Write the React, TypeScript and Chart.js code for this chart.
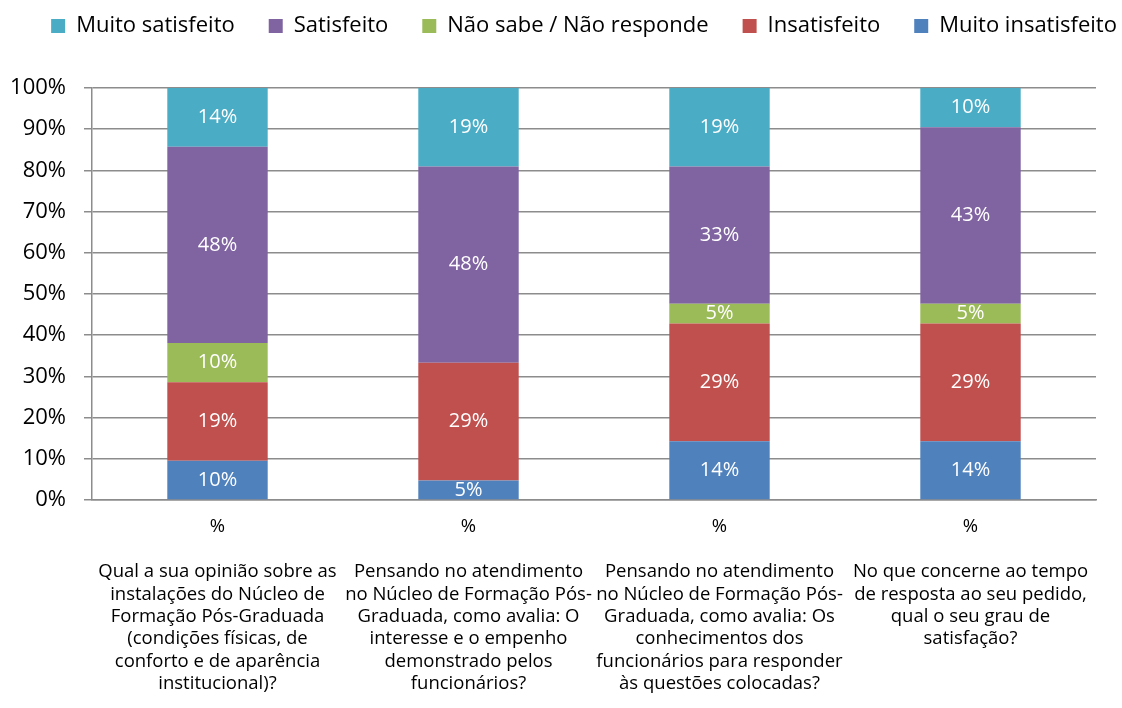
import React, { useEffect, useRef } from "react";
import { Chart, registerables } from "chart.js";

Chart.register(...registerables);

const categories: string[][] = [
  ["%", "", "Qual a sua opinião sobre as", "instalações do Núcleo de", "Formação Pós-Graduada", "(condições físicas, de", "conforto e de aparência", "institucional)?"],
  ["%", "", "Pensando no atendimento", "no Núcleo de Formação Pós-", "Graduada, como avalia: O", "interesse e o empenho", "demonstrado pelos", "funcionários?"],
  ["%", "", "Pensando no atendimento", "no Núcleo de Formação Pós-", "Graduada, como avalia: Os", "conhecimentos dos", "funcionários para responder", "às questões colocadas?"],
  ["%", "", "No que concerne ao tempo", "de resposta ao seu pedido,", "qual o seu grau de", "satisfação?"],
];

const muitoInsatisfeito = [9.52, 4.76, 14.29, 14.29];
const insatisfeito = [19.05, 28.57, 28.57, 28.57];
const naoSabe = [9.52, 0, 4.76, 4.76];
const satisfeito = [47.62, 47.62, 33.33, 42.86];
const muitoSatisfeito = [14.29, 19.05, 19.05, 9.52];

const yTicks = [0, 10, 20, 30, 40, 50, 60, 70, 80, 90, 100];

const FONT = "'Open Sans'";
const LEGEND_PAD = 34;
const LEGEND_FONT = 22;

const dataLabels = {
  id: "dataLabels",
  afterDatasetsDraw(chart: any) {
    const ctx = chart.ctx;
    ctx.save();
    ctx.fillStyle = "#ffffff";
    ctx.font = `20px ${FONT}`;
    ctx.textAlign = "center";
    ctx.textBaseline = "middle";
    chart.data.datasets.forEach((ds: any, i: number) => {
      const meta = chart.getDatasetMeta(i);
      meta.data.forEach((el: any, j: number) => {
        const v = ds.data[j];
        if (!v) return;
        const y = (el.y + el.base) / 2;
        ctx.fillText(Math.round(v) + "%", el.x, y);
      });
    });
    ctx.restore();
  },
};

const legendPlacement = {
  id: "legendPlacement",
  beforeInit(chart: any) {
    const lg = chart.legend;
    if (!lg) return;
    const orig = lg.fit;
    lg.fit = function () {
      const mw = this.maxWidth;
      this.maxWidth = 5000;
      orig.call(this);
      this.maxWidth = mw;
      this.width = mw;
      this.height = 82;
    };
  },
  afterLayout(chart: any) {
    const lg = chart.legend;
    if (!lg) return;
    const h = lg.bottom - lg.top;
    // centre the legend row on x = 584, leaving room so it stays on one line
    lg.left = 6;
    lg.right = 1162;
    lg.width = lg.right - lg.left;
    lg.top = 26 - LEGEND_FONT / 2 - LEGEND_PAD;
    lg.bottom = lg.top + h;
  },
};

export default function App() {
  const ref = useRef<HTMLCanvasElement | null>(null);
  useEffect(() => {
    if (!ref.current) return;
    const grid = "#8c8c8c";
    const chart = new Chart(ref.current, {
      type: "bar",
      data: {
        labels: categories,
        datasets: [
          { label: "Muito insatisfeito", data: muitoInsatisfeito, backgroundColor: "#4F81BD" },
          { label: "Insatisfeito", data: insatisfeito, backgroundColor: "#C0504D" },
          { label: "Não sabe / Não responde", data: naoSabe, backgroundColor: "#9BBB59" },
          { label: "Satisfeito", data: satisfeito, backgroundColor: "#8064A2" },
          { label: "Muito satisfeito", data: muitoSatisfeito, backgroundColor: "#4BACC6" },
        ],
      },
      options: {
        responsive: false,
        animation: false,
        devicePixelRatio: 1,
        layout: { padding: { left: 0, right: 0, top: 6, bottom: 0 } },
        datasets: { bar: { categoryPercentage: 1, barPercentage: 0.4 } },
        plugins: {
          tooltip: { enabled: false },
          legend: {
            position: "top",
            reverse: true,
            labels: {
              boxWidth: 14,
              boxHeight: 14,
              padding: LEGEND_PAD,
              color: "#000000",
              font: { family: FONT, size: LEGEND_FONT },
            },
          },
        },
        scales: {
          x: {
            stacked: true,
            grid: { display: false, drawTicks: false },
            border: { display: true, color: grid, width: 1.5 },
            ticks: {
              color: "#000000",
              font: { family: FONT, size: 18.5, lineHeight: "22.4px" } as any,
              padding: 16,
              maxRotation: 0,
              autoSkip: false,
            },
            afterFit(s: any) {
              s.height = 208;
            },
          },
          y: {
            stacked: true,
            min: 0,
            max: 100,
            afterBuildTicks(s: any) {
              s.ticks = yTicks.map((v) => ({ value: v }));
            },
            grid: { color: grid, lineWidth: 1.5, tickLength: 8 },
            border: { display: true, color: grid, width: 1.5 },
            ticks: {
              color: "#000000",
              font: { family: FONT, size: 22 },
              padding: 18,
              callback: (v: any) => v + "%",
            },
            afterFit(s: any) {
              s.width = 92;
            },
          },
          yRight: {
            type: "linear",
            position: "right",
            display: true,
            grid: { display: false, drawTicks: false },
            border: { display: false },
            ticks: { display: false },
            afterFit(s: any) {
              s.width = 26;
            },
          },
        },
      },
      plugins: [dataLabels, legendPlacement],
    });
    return () => chart.destroy();
  }, []);
  return (
    <div style={{ position: "fixed", left: 0, top: 0, width: 1122, height: 708, background: "#fff" }}>
      <canvas ref={ref} width={1122} height={708} style={{ display: "block" }} />
    </div>
  );
}
